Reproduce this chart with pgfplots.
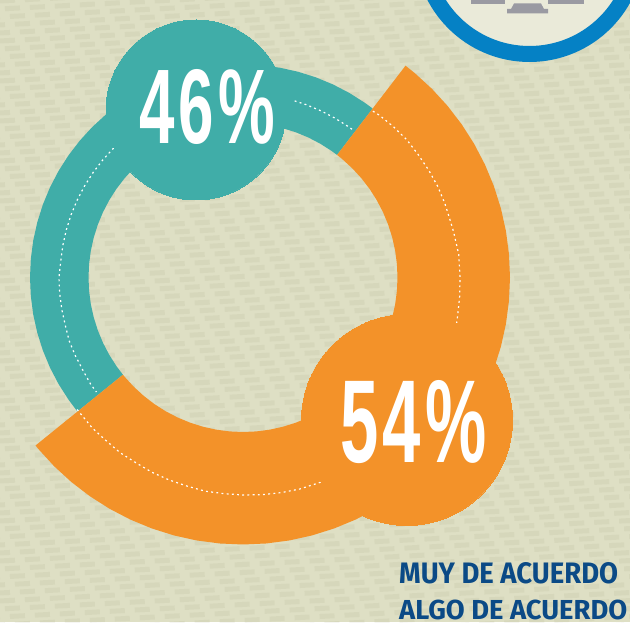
\documentclass[border=0pt]{standalone}
\usepackage{pgfplots}
\pgfplotsset{compat=1.18}
\usepackage{fontspec}
\setmainfont{Fira Sans}
\newfontfamily\numfont{Liberation Sans}
\definecolor{bgc}{HTML}{DEDFC4}
\definecolor{tealc}{HTML}{40ADA8}
\definecolor{orangec}{HTML}{F39229}
\definecolor{bluec}{HTML}{0581C5}
\definecolor{navyc}{HTML}{0B4A86}
\definecolor{greyc}{HTML}{9A9AA2}
\pgfplotsset{panel/.style={at={(0,0)},anchor=south west,
  scale only axis,width=630pt,height=682pt,
  xmin=-243,xmax=387,ymin=-344.5,ymax=337.5,
  hide axis,clip=false}}
\begin{document}
\begin{tikzpicture}[x=1pt,y=1pt]
\begin{scope}
\clip (0,0) rectangle (630,622);
\fill[bgc] (0,0) rectangle (630,622);
\foreach \k [count=\i] in {-100,-92,...,780}{
  \pgfmathsetmacro\ph{mod(\i*5,25)}
  \draw[black!50!olive,opacity=0.055,line width=5pt,dash pattern=on 15pt off 10pt,dash phase=\ph pt] (-20,\k) -- (660,\k+35);
}
\begin{axis}[panel]
% blue circle
\addplot[only marks,mark=*,mark size=107,mark options={draw=bluec,line width=16pt,fill=white!35!bgc}] coordinates {(286.5,330.5)};
\end{axis}
\begin{axis}[panel]
% monitors
\addplot[fill=greyc,draw=none] coordinates {(228,278) (262,278) (262,273) (228,273)};
\addplot[fill=greyc,draw=none] coordinates {(305,278) (341,278) (341,273) (305,273)};
\addplot[fill=greyc,draw=none] coordinates {(271,274) (298,274) (301,268.5) (305,268.5) (305,264) (264,264) (264,268.5) (268,268.5)};
% teal ring: 46%
\addplot[fill=tealc,draw=none,data cs=polar] coordinates {
(52.5,154.5)(55,154.5)(60,154.5)(65,154.5)(70,154.5)(75,154.5)(80,154.5)(85,154.5)(90,154.5)(95,154.5)(100,154.5)(105,154.5)(110,154.5)(115,154.5)(120,154.5)(125,154.5)(130,154.5)(135,154.5)(140,154.5)(145,154.5)(150,154.5)(155,154.5)(160,154.5)(165,154.5)(170,154.5)(175,154.5)(180,154.5)(185,154.5)(190,154.5)(195,154.5)(200,154.5)(205,154.5)(210,154.5)(215,154.5)(219,154.5)
(219,213)(215,213)(210,213)(205,213)(200,213)(195,213)(190,213)(185,213)(180,213)(175,213)(170,213)(165,213)(160,213)(155,213)(150,213)(145,213)(140,213)(135,213)(130,213)(125,213)(120,213)(115,213)(110,213)(105,213)(100,213)(95,213)(90,213)(85,213)(80,213)(75,213)(70,213)(65,213)(60,213)(55,213)(52.5,213)
};
% orange ring: 54%
\addplot[fill=orangec,draw=none,data cs=polar] coordinates {
(52.5,154.5)(50,154.5)(45,154.5)(40,154.5)(35,154.5)(30,154.5)(25,154.5)(20,154.5)(15,154.5)(10,154.5)(5,154.5)(0,154.5)(-5,154.5)(-10,154.5)(-15,154.5)(-20,154.5)(-25,154.5)(-30,154.5)(-35,154.5)(-40,154.5)(-45,154.5)(-50,154.5)(-55,154.5)(-60,154.5)(-65,154.5)(-70,154.5)(-75,154.5)(-80,154.5)(-85,154.5)(-90,154.5)(-95,154.5)(-100,154.5)(-105,154.5)(-110,154.5)(-115,154.5)(-120,154.5)(-125,154.5)(-130,154.5)(-135,154.5)(-140,154.5)(-141,154.5)
(-141,267)(-140,267)(-135,267)(-130,267)(-125,267)(-120,267)(-115,267)(-110,267)(-105,267)(-100,267)(-95,267)(-90,267)(-85,267)(-80,267)(-75,267)(-70,267)(-65,267)(-60,267)(-55,267)(-50,267)(-45,267)(-40,267)(-35,267)(-30,267)(-25,267)(-20,267)(-15,267)(-10,267)(-5,267)(0,267)(5,267)(10,267)(15,267)(20,267)(25,267)(30,267)(35,267)(40,267)(45,267)(50,267)(52.5,267)
};
% white dotted arcs
\pgfplotsset{dotarc/.style={white,line width=1.2pt,dash pattern=on 1.9pt off 3.3pt,data cs=polar}}
\addplot[dotarc] coordinates {(73.7,184)(70,184)(65,184)(60,184)(55,184)(53.5,184)};
\addplot[dotarc] coordinates {(135,183)(140,183)(145,183)(150,183)(155,183)(160,183)(165,183)(170,183)(175,183)(180,184)(185,184)(190,184)(195,184)(200,185)(205,185)(210,185)(215,186)(218,186)};
\addplot[dotarc] coordinates {(52,211)(50,212)(45,213)(40,214)(35,214)(30,214.5)(25,215)(20,215)(15,215)(12,215.5)(6,217)(0,217)(-5,217.5)(-10,218)(-12,218.4)};
\addplot[dotarc] coordinates {(218.5,212)(225,213)(230,213)(235,214)(240,214)(245,215)(250,215.5)(255,216)(260,217)(265,217)(270,217.5)(275,218)(280,218.5)(285,219)(291,219)};
% bubbles
\addplot[only marks,mark=*,mark size=90,mark options={draw=tealc,line width=0pt,fill=tealc}] coordinates {(-47,167.5)};
\addplot[only marks,mark=*,mark size=105.5,mark options={draw=orangec,line width=0pt,fill=orangec}] coordinates {(164,-142.5)};
\end{axis}
\node[white,inner sep=0pt] at (207.5,515.5) {\resizebox{135pt}{74pt}{\numfont\bfseries 4\kern.05em 6\kern.07em\%}};
\node[white,inner sep=0pt] at (414,200) {\resizebox{146pt}{82pt}{\numfont\bfseries 5\kern.05em 4\kern.07em\%}};
\node[navyc,inner sep=0pt,anchor=south west] at (399,38) {\resizebox{219pt}{21pt}{\bfseries MUY DE ACUERDO}};
\node[navyc,inner sep=0pt,anchor=south west] at (399,2) {\resizebox{228pt}{19.5pt}{\bfseries ALGO DE ACUERDO}};
\end{scope}
\pgfresetboundingbox
\path[use as bounding box] (0,0) rectangle (630,622);
\end{tikzpicture}
\end{document}
